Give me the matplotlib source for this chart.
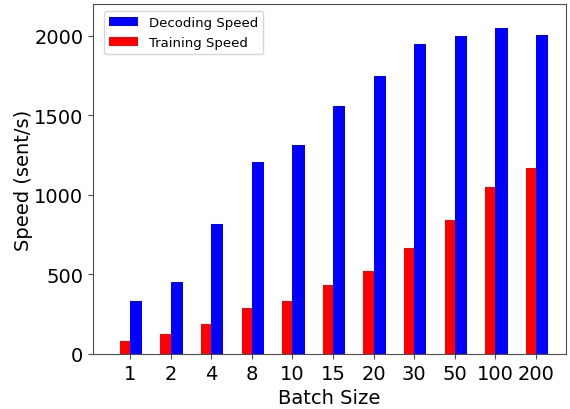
import matplotlib
matplotlib.use('Agg')
from matplotlib.pyplot import figure
import numpy as np

batch_sizes = ['1', '2', '4', '8', '10', '15', '20', '30', '50', '100', '200']
decoding_speed = [333, 453, 818, 1208, 1314, 1560, 1748, 1950, 2000, 2050, 2008]
training_speed = [84, 128, 189, 289, 333, 434, 522, 667, 843, 1050, 1170]

if __name__ == '__main__':
    x = np.arange(len(batch_sizes))
    fig = figure(figsize=(5.7, 4.1), dpi=100)
    ax = fig.add_axes([93/570, 55/410, 473/570, 350/410])
    ax.bar(x, decoding_speed, width=0.3, align='edge', color='blue', label='Decoding Speed')
    ax.bar(x, training_speed, width=-0.25, align='edge', color='red', label='Training Speed')
    ax.set_xticks(x)
    ax.set_xticklabels(batch_sizes)
    ax.set_xlim(-0.91, 10.74)
    ax.set_ylim(0, 2200)
    ax.set_yticks([0, 500, 1000, 1500, 2000])
    ax.tick_params(labelsize=14, color='0.3')
    for s in ax.spines.values():
        s.set_edgecolor('0.3')
    ax.set_xlabel('Batch Size', fontsize=14)
    ax.set_ylabel('Speed (sent/s)', fontsize=14, labelpad=0.5)
    ax.legend(loc='upper left', bbox_to_anchor=(0.023, 0.98), borderaxespad=0,
              fontsize=9.5, handlelength=2.2)
    fig.savefig('out.png')
